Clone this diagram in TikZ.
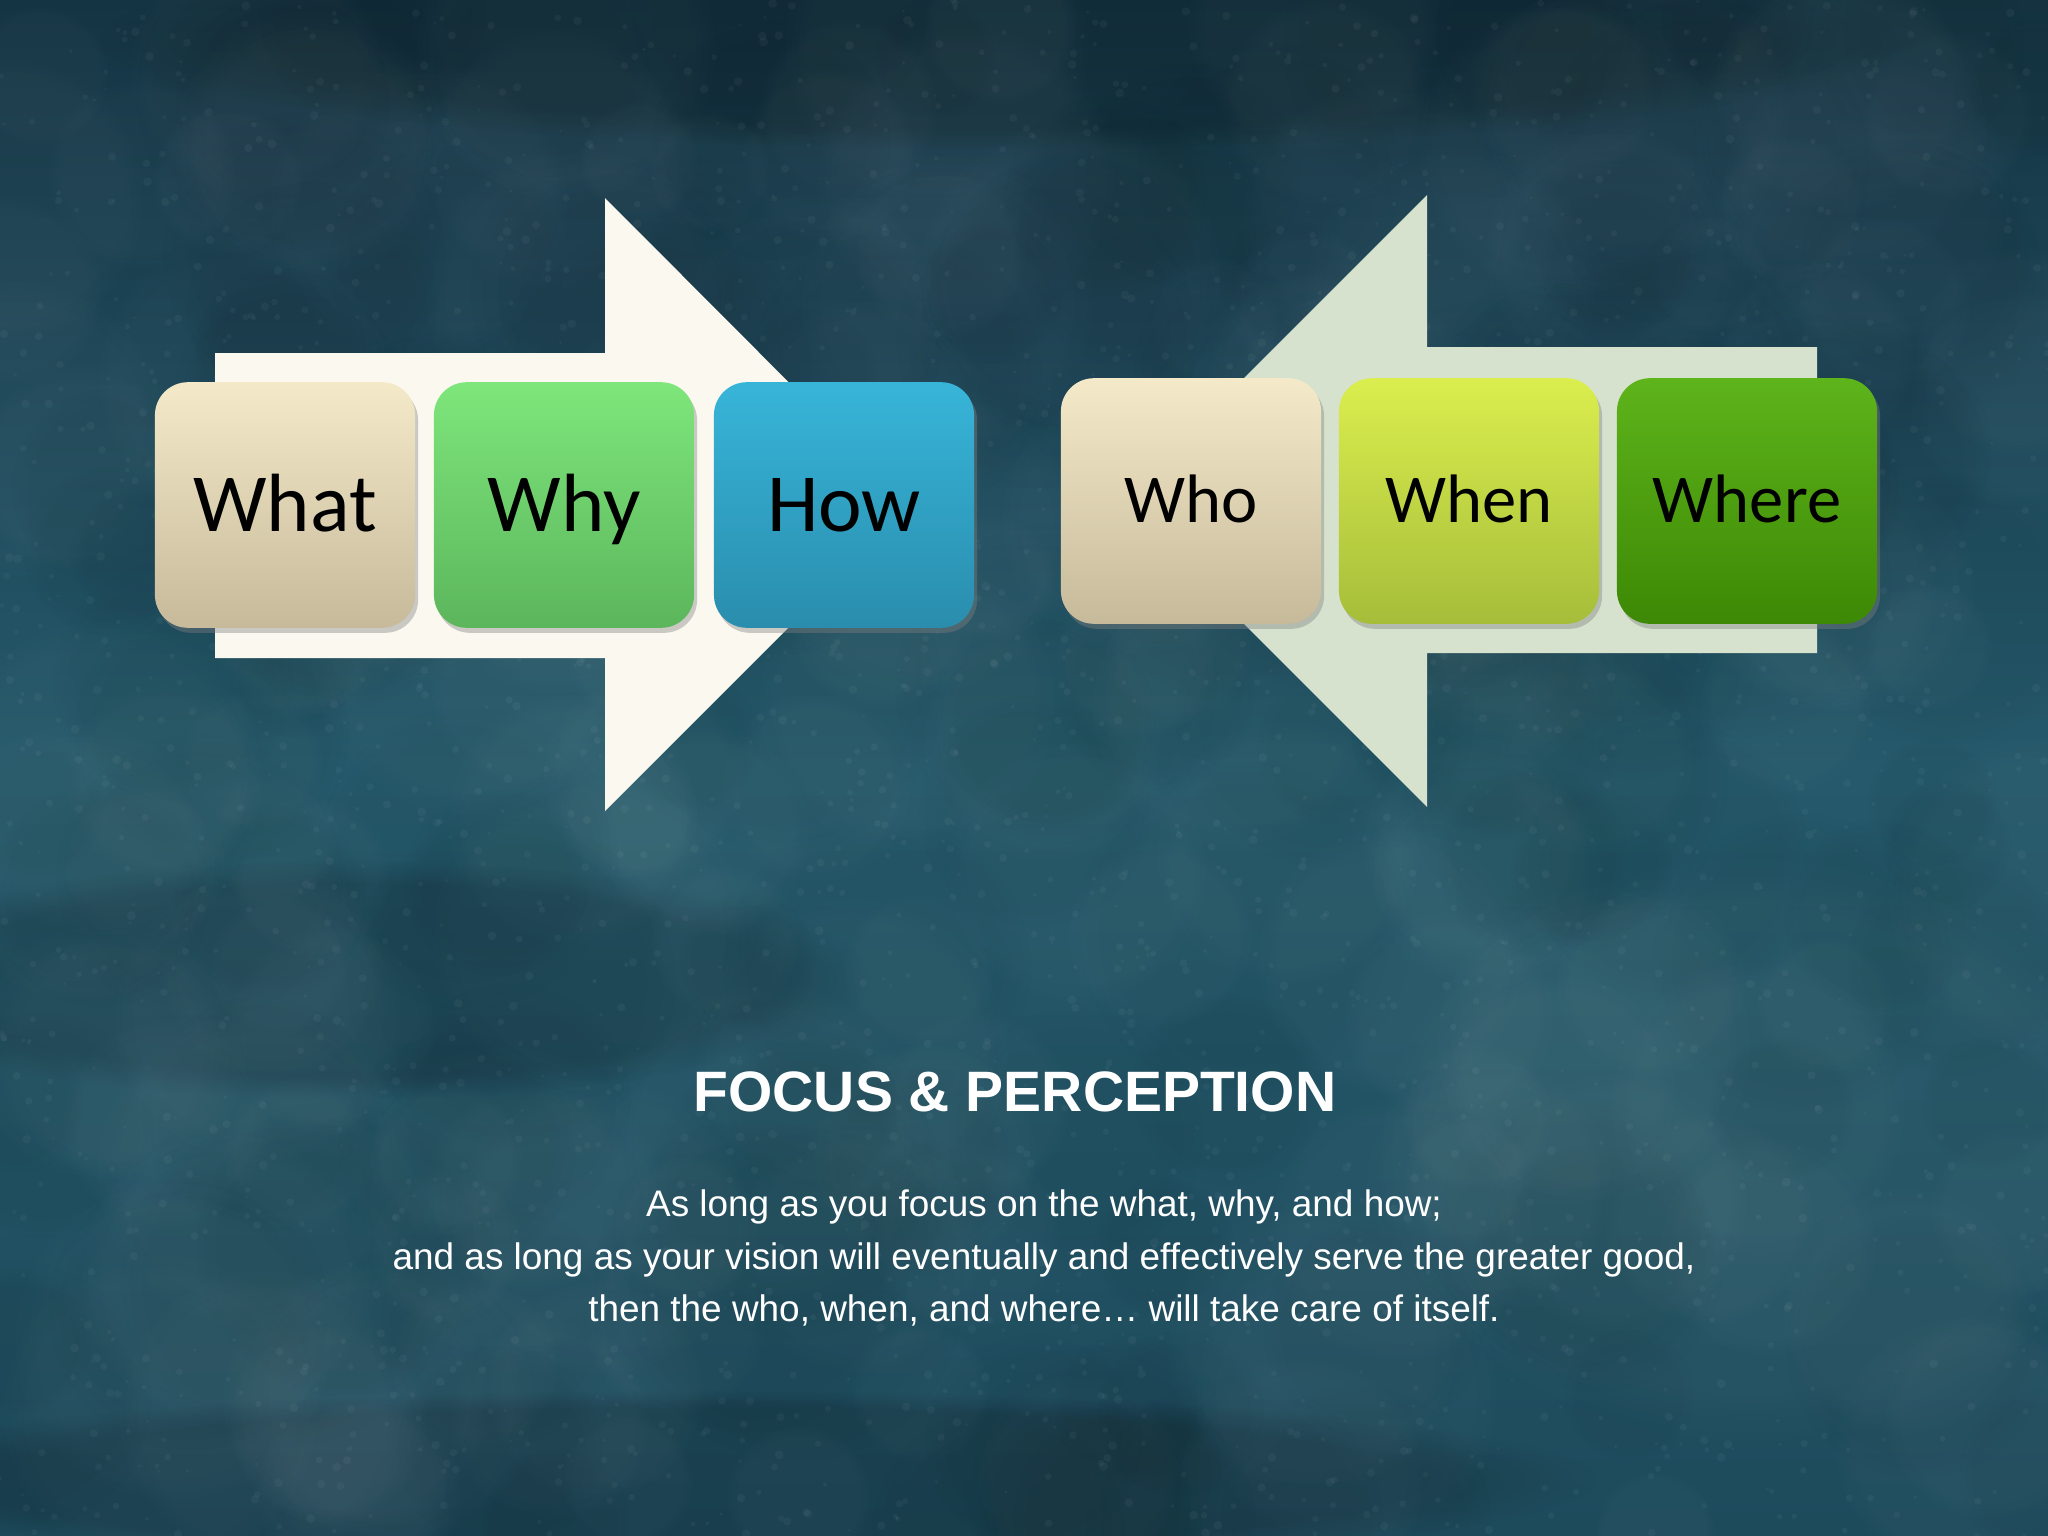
\documentclass[tikz,border=0pt]{standalone}
\usepackage{fontspec}
\setmainfont{Liberation Sans}
\newfontfamily\boxfont{Carlito}
\usetikzlibrary{shadows,fadings}

\definecolor{bgtop}{HTML}{153443}
\definecolor{bgmid}{HTML}{25596B}
\definecolor{bgbot}{HTML}{1E4B5C}
\definecolor{arrowA}{HTML}{FBF8F0}
\definecolor{arrowB}{HTML}{D6E2CE}
\definecolor{sandT}{HTML}{F4E9C8}
\definecolor{sandB}{HTML}{C6BA9B}
\definecolor{mintT}{HTML}{7EE67B}
\definecolor{mintB}{HTML}{5CB65C}
\definecolor{skyT}{HTML}{37B5D9}
\definecolor{skyB}{HTML}{2A8DAD}
\definecolor{limeT}{HTML}{DBEE4E}
\definecolor{limeB}{HTML}{A6BD3A}
\definecolor{leafT}{HTML}{5EB41B}
\definecolor{leafB}{HTML}{3D8805}

\tikzset{
  qbox/.style={rounded corners=0.33cm, minimum width=2.6cm, minimum height=2.455cm,
    inner sep=0pt, text=black, text depth=0pt,
    drop shadow={shadow xshift=0.03cm, shadow yshift=-0.05cm, opacity=0.4}},
  bigq/.style={qbox, text height=15pt, font=\boxfont\fontsize{23.5}{28}\selectfont},
  smallq/.style={qbox, text height=12.5pt, font=\boxfont\fontsize{19.5}{24}\selectfont},
  blot/.style={path fading=circle with fuzzy edge 20 percent},
}

\begin{document}
\begin{tikzpicture}[x=0.01cm, y=-0.01cm]
%% background
\useasboundingbox (0,0) rectangle (2048,1536);
\shade[top color=bgtop, bottom color=bgmid] (0,0) rectangle (2048,768);
\shade[top color=bgmid, bottom color=bgbot] (0,768) rectangle (2048,1536);
\fill[black, opacity=0.15, blot] (350,980) ellipse (520 and 120);
\fill[black, opacity=0.15, blot] (1000,40) ellipse (900 and 110);
\fill[white, opacity=0.03, blot] (1750,1150) ellipse (380 and 300);
\fill[black, opacity=0.15, blot] (700,1480) ellipse (900 and 90);
%% mottling
\pgfmathsetseed{7}
\foreach \i in {1,...,160}{
  \pgfmathsetmacro{\gx}{2048*rnd}
  \pgfmathsetmacro{\gy}{1536*rnd}
  \pgfmathsetmacro{\gr}{60+110*rnd}
  \fill[white, opacity=0.02, blot] (\gx,\gy) circle (\gr);
}
\foreach \i in {1,...,140}{
  \pgfmathsetmacro{\gx}{2048*rnd}
  \pgfmathsetmacro{\gy}{1536*rnd}
  \pgfmathsetmacro{\gr}{60+110*rnd}
  \fill[black, opacity=0.03, blot] (\gx,\gy) circle (\gr);
}
\foreach \i in {1,...,2500}{
  \pgfmathsetmacro{\gx}{2048*rnd}
  \pgfmathsetmacro{\gy}{1536*rnd}
  \pgfmathsetmacro{\gr}{1.5+3*rnd}
  \fill[white, opacity=0.04] (\gx,\gy) circle (\gr);
}

%% arrows
\fill[arrowA] (215,353) -- (605,353) -- (605,198) -- (911,505)
  -- (605,811) -- (605,658) -- (215,658) -- cycle;
\fill[arrowB] (1817,347) -- (1427,347) -- (1427,195) -- (1121,501)
  -- (1427,807) -- (1427,653) -- (1817,653) -- cycle;

%% left group
\node[bigq, top color=sandT, bottom color=sandB] (what) at (285,505) {What};
\node[bigq, top color=mintT, bottom color=mintB] (why) at (564,505) {Why};
\node[bigq, top color=skyT, bottom color=skyB] (how) at (844,505) {How};

%% right group
\node[smallq, top color=sandT, bottom color=sandB] (who) at (1191,501) {Who};
\node[smallq, top color=limeT, bottom color=limeB] (when) at (1469,501) {When};
\node[smallq, top color=leafT, bottom color=leafB] (where) at (1747,501) {Where};

%% text
\node[text=white, font=\bfseries\fontsize{16.2}{19}\selectfont] (title) at (1015,1092) {FOCUS \& PERCEPTION};
\node[text=white, align=center, font=\fontsize{10.5}{15}\selectfont] (story) at (1044,1258)
  {As long as you focus on the what, why, and how;\\
   and as long as your vision will eventually and effectively serve the greater good,\\
   then the who, when, and where\dots{} will take care of itself.};
\end{tikzpicture}
\end{document}
